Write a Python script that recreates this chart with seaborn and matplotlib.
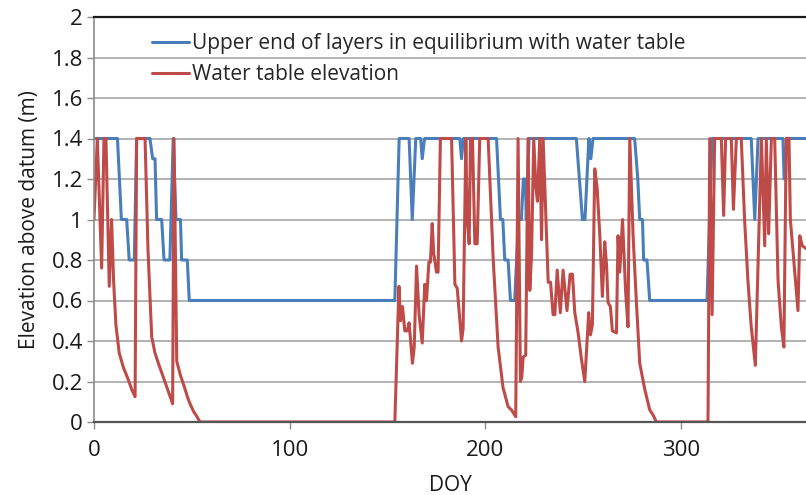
import matplotlib
matplotlib.use("Agg")
import matplotlib.pyplot as plt
import seaborn as sns
import pandas as pd
from matplotlib.ticker import FuncFormatter

# ---- data ----
blue_label = "Upper end of layers in equilibrium with water table"
red_label = "Water table elevation"

blue_doy = [0, 12, 14, 16.7, 18, 20.6, 21.8, 28.6, 30, 31.2, 32, 34.6, 35.8, 38.8,
            40.5, 41.9, 44.2, 44.8, 47.7, 48.7, 153.8, 156, 161.1, 162.7, 164.5,
            167, 167.8, 169, 187, 187.9, 188.8, 205.8, 207.8, 209, 210, 211.7,
            212.9, 215.1, 217, 218.5, 219.5, 220.5, 221, 222.4, 246.6, 249.7, 251,
            253, 254, 255.1, 276.4, 278, 279, 280.4, 281, 282.7, 284.1, 313.4, 316,
            336, 337.8, 339.5, 352.2, 352.8, 353.6, 354, 365]
blue_elev = [1.4, 1.4, 1.0, 1.0, 0.8, 0.8, 1.4, 1.4, 1.3, 1.3, 1.0, 1.0, 0.8, 0.8,
             1.4, 1.0, 1.0, 0.8, 0.8, 0.6, 0.6, 1.4, 1.4, 1.0, 1.4,
             1.4, 1.3, 1.4, 1.4, 1.3, 1.4, 1.4, 1.0, 1.0, 0.8, 0.8,
             0.6, 0.6, 1.0, 1.0, 1.2, 1.2, 1.0, 1.4, 1.4, 1.0, 1.0,
             1.4, 1.3, 1.4, 1.4, 1.2, 1.0, 1.0, 0.8, 0.8, 0.6, 0.6, 1.4,
             1.4, 1.0, 1.4, 1.4, 1.2, 1.2, 1.4, 1.4]

red_doy = [0, 1.7, 3.9, 5.1, 6.1, 7.8, 9.0, 10.0, 11.2, 12.9, 15, 17.5, 19.3, 21,
           21.8, 26.1, 27.6, 29.5, 31.2, 32.9, 35.5, 38, 40.2, 40.9, 42.3, 44.2,
           46.3, 47.9, 49.1, 51, 52.1, 54.2, 153.8, 155.9, 156.7, 157.7, 158.4,
           158.9, 160.1, 161.1, 162.8, 163.7, 164.9, 166.2, 167.8, 169.1, 170,
           171.2, 172, 172.9, 173.7, 175.1, 175.9, 177.1, 182.8, 184.5, 185.7,
           187.9, 188.7, 190.1, 190.8, 191.8, 192.5, 193.5, 194.7, 195.9, 197.2,
           201.5, 204.1, 206.6, 209.1, 211.7, 213.4, 215.6, 216.8, 218, 218.7,
           219.4, 220.7, 221.9, 222.8, 223.7, 224.8, 225.9, 226.7, 227.9, 228.8,
           229.6, 232.2, 233.4, 234.7, 235.6, 236.8, 238.4, 239.8, 241.8, 243.4,
           244.6, 245.8, 247.5, 249.2, 250.9, 252.9, 253.8, 254.8, 256, 257.2,
           258.6, 259.9, 261.1, 262, 262.8, 264, 265, 267.1, 267.9, 268.8, 270.2,
           271.8, 273, 273.9, 275.6, 277.3, 279, 281.6, 284.1, 285.8, 287.5,
           313.9, 314.8, 316, 317.3, 320.7, 321.9, 322.9, 325.8, 326.9, 328.4,
           330.9, 332.6, 334.3, 336, 338.1, 341.2, 342.9, 343.7, 344.9, 346.3,
           348, 349.7, 351.4, 352.7, 353.9, 355.3, 356, 359.9, 360.8, 362.1, 365]
red_elev = [1.0, 1.4, 0.76, 1.4, 1.4, 0.67, 1.0, 0.7, 0.48, 0.34, 0.27, 0.21, 0.16, 0.125,
            1.4, 1.4, 0.85, 0.42, 0.34, 0.29, 0.22, 0.15, 0.09, 1.4, 0.3, 0.23,
            0.17, 0.12, 0.09, 0.05, 0.035, 0.0, 0.0, 0.67, 0.5, 0.57, 0.5,
            0.45, 0.45, 0.49, 0.29, 0.37, 0.77, 0.53, 0.39, 0.68, 0.6,
            0.79, 0.79, 0.98, 0.83, 0.74, 0.74, 1.4, 1.4, 0.68, 0.66,
            0.4, 0.46, 1.4, 1.0, 0.88, 1.4, 1.4, 0.88, 0.88, 1.4,
            1.4, 0.8, 0.37, 0.17, 0.076, 0.06, 0.026, 1.4, 0.2, 0.22,
            0.32, 0.33, 1.4, 0.65, 0.83, 1.4, 1.16, 1.09, 1.4, 0.9,
            1.4, 0.69, 0.69, 0.53, 0.53, 0.75, 0.54, 0.75, 0.55, 0.73,
            0.73, 0.54, 0.44, 0.31, 0.2, 0.54, 0.43, 0.48, 1.25, 1.16,
            0.92, 0.62, 0.89, 0.78, 0.59, 0.57, 0.45, 0.44, 0.92, 0.74, 1.0,
            0.64, 0.47, 1.4, 0.92, 0.59, 0.29, 0.16, 0.06, 0.035, 0.0,
            0.0, 1.4, 0.53, 1.4, 1.4, 1.02, 1.4, 1.4, 1.05, 1.4,
            1.4, 1.0, 0.7, 0.47, 0.28, 1.4, 0.87, 1.4, 0.93, 1.4,
            1.4, 0.7, 0.47, 0.37, 1.4, 1.4, 1.0, 0.55, 0.92, 0.87, 0.85]

x_ticks = [0, 100, 200, 300]
y_ticks = [0, 0.2, 0.4, 0.6, 0.8, 1.0, 1.2, 1.4, 1.6, 1.8, 2.0]

df = pd.concat([
    pd.DataFrame({"DOY": blue_doy, "Elevation": blue_elev, "Series": blue_label}),
    pd.DataFrame({"DOY": red_doy, "Elevation": red_elev, "Series": red_label}),
], ignore_index=True)

sns.set_theme(style="white")
plt.rcParams["font.family"] = ["Open Sans", "DejaVu Sans"]

FS = 15
fig = plt.figure(figsize=(8.06, 4.95), dpi=100)
ax = fig.add_axes([94 / 806, 73 / 495, 712 / 806, 405 / 495])

sns.lineplot(data=df, x="DOY", y="Elevation", hue="Series", estimator=None,
             sort=False, palette={blue_label: "#4a7ebb", red_label: "#be4b48"},
             linewidth=2.2, ax=ax, legend=True)

ax.set_xlim(0, 364)
ax.set_ylim(0, 2)
ax.set_xticks(x_ticks)
ax.set_yticks(y_ticks)
ax.yaxis.set_major_formatter(FuncFormatter(lambda v, p: f"{v:g}"))
ax.grid(axis="y", color="#a6a6a6", linewidth=1.2)
ax.grid(axis="x", visible=False)
ax.set_axisbelow(True)

for side, col, lw in [("top", "#1a1a1a", 1.6), ("bottom", "#555555", 1.6),
                      ("left", "#8c8c8c", 1.2)]:
    ax.spines[side].set_visible(True)
    ax.spines[side].set_color(col)
    ax.spines[side].set_linewidth(lw)
ax.spines["right"].set_visible(False)

ax.tick_params(axis="both", which="major", direction="out", length=5, width=1,
               color="#8c8c8c", labelsize=16, labelcolor="#1a1a1a",
               left=True, bottom=True)
ax.tick_params(axis="y", pad=3)
ax.tick_params(axis="x", pad=8)

ax.set_xlabel("DOY", fontsize=FS, color="#1a1a1a", labelpad=10)
ax.set_ylabel("Elevation above datum (m)", fontsize=FS, color="#1a1a1a", labelpad=8)

handles, labels = ax.get_legend_handles_labels()
ax.legend(handles, labels, loc="upper left", bbox_to_anchor=(0.081, 0.96),
          frameon=False, fontsize=FS, handlelength=1.8, handletextpad=0.15,
          labelspacing=0.49, borderpad=0, borderaxespad=0)

fig.savefig("out.png", dpi=100)
